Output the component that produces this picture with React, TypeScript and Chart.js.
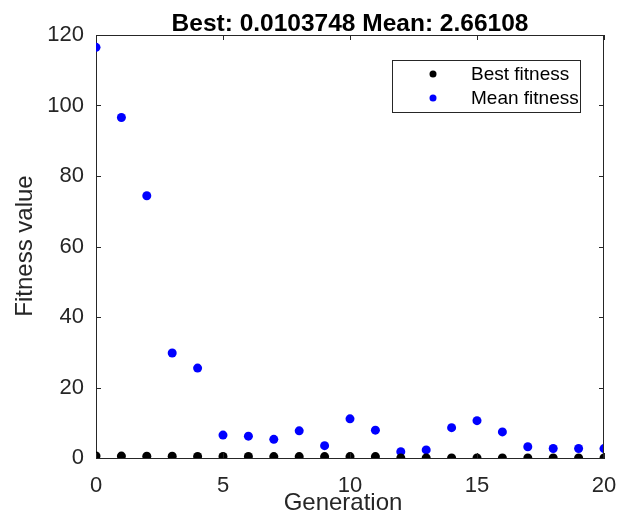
import React, { useEffect, useRef } from "react";
import { Chart, registerables } from "chart.js";

Chart.register(...registerables);

const generations = [0, 1, 2, 3, 4, 5, 6, 7, 8, 9, 10, 11, 12, 13, 14, 15, 16, 17, 18, 19, 20];
const bestFitness = [0.6, 0.55, 0.5, 0.5, 0.45, 0.45, 0.45, 0.4, 0.4, 0.4, 0.4, 0.4, 0.03, 0.03, 0.02, 0.02, 0.02, 0.015, 0.012, 0.011, 0.0103748];
const meanFitness = [116.5, 96.6, 74.4, 29.8, 25.5, 6.5, 6.2, 5.3, 7.7, 3.5, 11.1, 7.9, 1.8, 2.3, 8.6, 10.6, 7.4, 3.2, 2.7, 2.7, 2.66108];
const titleText = "Best: 0.0103748 Mean: 2.66108";
const xLabel = "Generation";
const yLabel = "Fitness value";
const legendLabels = ["Best fitness", "Mean fitness"];
const seriesColors = ["#000000", "#0000ff"];

const FONT = "'Liberation Sans', Arial, Helvetica, sans-serif";
const AXIS = "#262626";

const decorPlugin = {
  id: "matlabDecor",
  afterDraw(chart: any) {
    const { ctx, chartArea } = chart;
    const { left, right, top, bottom } = chartArea;
    ctx.save();
    // box
    ctx.strokeStyle = AXIS;
    ctx.lineWidth = 1;
    ctx.beginPath();
    ctx.moveTo(left, top + 0.5);
    ctx.lineTo(right, top + 0.5);
    ctx.moveTo(right - 0.5, top);
    ctx.lineTo(right - 0.5, bottom);
    ctx.stroke();
    // inward ticks
    const tl = 5;
    const xs = chart.scales.x;
    const ys = chart.scales.y;
    ctx.beginPath();
    xs.ticks.forEach((t: any) => {
      const px = Math.round(xs.getPixelForValue(t.value)) + 0.5;
      ctx.moveTo(px, bottom);
      ctx.lineTo(px, bottom - tl);
      ctx.moveTo(px, top);
      ctx.lineTo(px, top + tl);
    });
    ys.ticks.forEach((t: any) => {
      const py = Math.round(ys.getPixelForValue(t.value)) + 0.5;
      ctx.moveTo(left, py);
      ctx.lineTo(left + tl, py);
      ctx.moveTo(right, py);
      ctx.lineTo(right - tl, py);
    });
    ctx.stroke();

    // title
    ctx.fillStyle = "#000000";
    ctx.font = `bold 24.5px ${FONT}`;
    ctx.textAlign = "center";
    ctx.textBaseline = "alphabetic";
    ctx.fillText(titleText, (left + right) / 2, 31);

    // x label
    ctx.fillStyle = AXIS;
    ctx.font = `24px ${FONT}`;
    ctx.fillText(xLabel, 343, 510);

    // y label
    ctx.save();
    ctx.translate(32, 246);
    ctx.rotate(-Math.PI / 2);
    ctx.fillText(yLabel, 0, 0);
    ctx.restore();

    // legend
    const lx = 392.5, ly = 60.5, lw = 188, lh = 52;
    ctx.fillStyle = "#ffffff";
    ctx.fillRect(lx, ly, lw, lh);
    ctx.strokeStyle = AXIS;
    ctx.strokeRect(lx, ly, lw, lh);
    ctx.font = `19px ${FONT}`;
    ctx.textAlign = "left";
    ctx.textBaseline = "middle";
    const rows = [74, 98];
    legendLabels.forEach((lab, i) => {
      ctx.fillStyle = seriesColors[i];
      ctx.beginPath();
      ctx.arc(433, rows[i], 3.5, 0, Math.PI * 2);
      ctx.fill();
      ctx.fillStyle = "#000000";
      ctx.fillText(lab, 471, rows[i] + 1);
    });
    ctx.restore();
  },
};

export default function App() {
  const ref = useRef<HTMLCanvasElement>(null);
  useEffect(() => {
    if (!ref.current) return;
    const chart = new Chart(ref.current, {
      type: "scatter",
      data: {
        datasets: [
          {
            label: legendLabels[0],
            data: generations.map((g, i) => ({ x: g, y: bestFitness[i] })),
            backgroundColor: seriesColors[0],
            borderColor: seriesColors[0],
            pointRadius: 4.5,
            pointBorderWidth: 0,
          },
          {
            label: legendLabels[1],
            data: generations.map((g, i) => ({ x: g, y: meanFitness[i] })),
            backgroundColor: seriesColors[1],
            borderColor: seriesColors[1],
            pointRadius: 4.5,
            pointBorderWidth: 0,
          },
        ],
      },
      options: {
        responsive: false,
        animation: false,
        devicePixelRatio: 1,
        layout: { padding: { top: 35, right: 20, left: 0, bottom: 0 } },
        plugins: {
          legend: { display: false },
          title: { display: false },
          tooltip: { enabled: false },
        },
        scales: {
          x: {
            type: "linear",
            min: 0,
            max: 20,
            afterFit: (s: any) => {
              s.height = 56;
              s.paddingLeft = 0;
              s.paddingRight = 0;
            },
            ticks: {
              stepSize: 5,
              padding: 15,
              color: AXIS,
              font: { family: FONT, size: 22 },
            },
            grid: { display: true, drawOnChartArea: false, drawTicks: false },
            border: { display: true, color: AXIS, width: 1 },
          },
          y: {
            type: "linear",
            min: 0,
            max: 120,
            afterFit: (s: any) => {
              s.width = 96;
              s.paddingTop = 0;
              s.paddingBottom = 0;
            },
            ticks: {
              stepSize: 20,
              padding: 12,
              color: AXIS,
              font: { family: FONT, size: 22 },
            },
            grid: { display: true, drawOnChartArea: false, drawTicks: false },
            border: { display: true, color: AXIS, width: 1 },
          },
        },
      },
      plugins: [decorPlugin],
    } as any);
    return () => chart.destroy();
  }, []);
  return (
    <div style={{ position: "absolute", left: 0, top: 0, width: 624, height: 514, background: "#ffffff" }}>
      <canvas ref={ref} width={624} height={514} style={{ display: "block", width: 624, height: 514 }} />
    </div>
  );
}
